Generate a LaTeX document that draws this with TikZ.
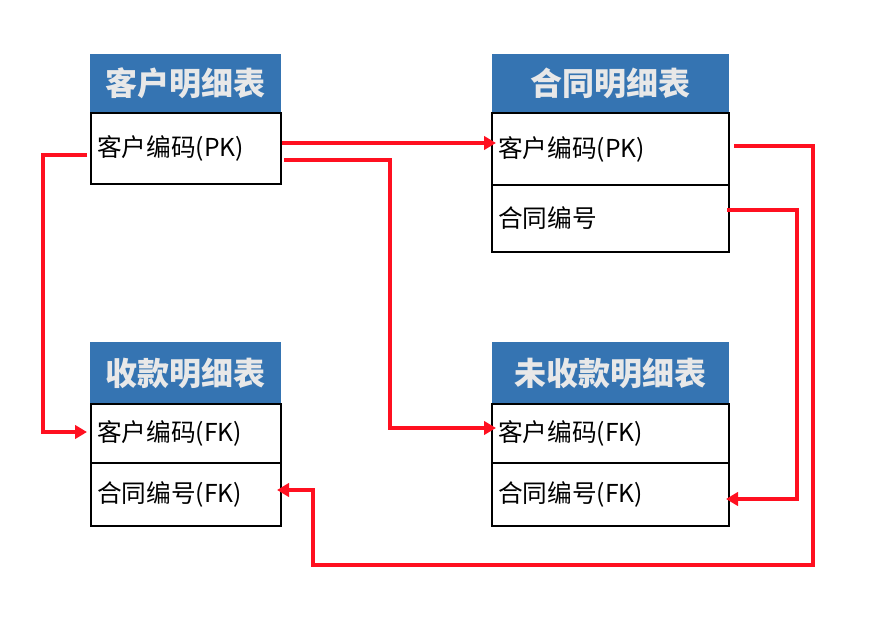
\documentclass[tikz,border=0pt]{standalone}
\usepackage{fontspec}
\newfontfamily\cjk{Noto Sans CJK SC}
\usetikzlibrary{arrows.meta,calc}
\definecolor{hdrblue}{HTML}{3574B2}
\definecolor{hdrtext}{HTML}{E8E8E8}
\definecolor{linkred}{HTML}{FF1020}
\begin{document}
\begin{tikzpicture}[x=0.75pt,y=-0.75pt,
  hdr/.style={fill=hdrblue,draw=none,inner sep=0pt,minimum height=#1*0.75pt,
    font=\cjk\bfseries\fontsize{24}{28}\selectfont,text=hdrtext},
  hdr/.default=59,
  rowbox/.style={draw=black,line width=1.5pt,inner xsep=4.5pt,inner ysep=0pt,
    minimum height=#1*0.75pt,align=left,font=\cjk\fontsize{18.5}{22}\selectfont},
  link/.style={draw=linkred,line width=3.4pt,-{Triangle[length=9pt,width=10pt]}}]
\useasboundingbox (0,0) rectangle (886,624);
% Table 1
\node[hdr=59,minimum width=191*0.75pt] (h1) at (185.5,83.5) {客户明细表};
\node[rowbox=71,text width=190*0.75pt-9pt] (a1) at (186,148.5) {\raisebox{-2pt}{客户编码(PK)}};
% Table 2
\node[hdr=59,minimum width=237*0.75pt] (h2) at (610.5,83.5) {合同明细表};
\node[rowbox=72,text width=237*0.75pt-9pt] (b1) at (610.5,149) {\raisebox{-2pt}{客户编码(PK)}};
\node[rowbox=67,text width=237*0.75pt-9pt] (b2) at (610.5,218.5) {合同编号};
% Table 3
\node[hdr=62,minimum width=191*0.75pt] (h3) at (185.5,373) {收款明细表};
\node[rowbox=59,text width=190*0.75pt-9pt] (c1) at (186,433.5) {客户编码(FK)};
\node[rowbox=63,text width=190*0.75pt-9pt] (c2) at (186,494.5) {合同编号(FK)};
% Table 4
\node[hdr=62,minimum width=237*0.75pt] (h4) at (610.5,373) {未收款明细表};
\node[rowbox=59,text width=237*0.75pt-9pt] (d1) at (610.5,433.5) {客户编码(FK)};
\node[rowbox=63,text width=237*0.75pt-9pt] (d2) at (610.5,494.5) {合同编号(FK)};
% bend coordinates
\coordinate (m2) at (390,0);
\coordinate (m3) at (43,0);
\coordinate (m4a) at (813,565);
\coordinate (m4b) at (313,565);
\coordinate (m5) at (797,0);
% connector 1
\coordinate (s1) at ($(a1.east)+(0,-5.5)$);
\coordinate (e1) at ($(b1.west)+(5,-6)$);
\draw[link] (s1) -- (e1);
% connector 2
\coordinate (s2) at ($(a1.east)+(2,11.5)$);
\coordinate (e2) at ($(d1.west)+(5,-5.5)$);
\draw[link] (s2) -- (s2 -| m2) -- (m2 |- e2) -- (e2);
% connector 3
\coordinate (s3) at ($(a1.west)+(-3,6.5)$);
\coordinate (e3) at ($(c1.west)+(-3,-1.5)$);
\draw[link] (s3) -- (s3 -| m3) -- (m3 |- e3) -- (e3);
% connector 4
\coordinate (s4) at ($(b1.east)+(4,-3)$);
\coordinate (e4) at ($(c2.east)+(-5,-4.5)$);
\draw[link] (s4) -- (s4 -| m4a) -- (m4a) -- (m4b) -- (m4b |- e4) -- (e4);
% connector 5
\coordinate (s5) at ($(b2.east)+(-3,-8.5)$);
\coordinate (e5) at ($(d2.east)+(-4,4.5)$);
\draw[link] (s5) -- (s5 -| m5) -- (m5 |- e5) -- (e5);
\end{tikzpicture}
\end{document}
